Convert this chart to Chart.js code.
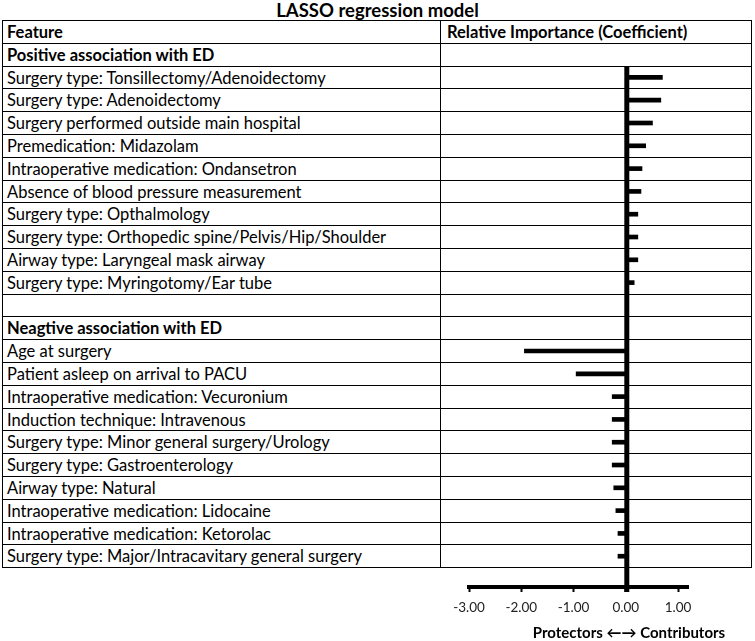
<!DOCTYPE html>
<html>
<head>
<meta charset="utf-8">
<script src="https://cdn.jsdelivr.net/npm/chart.js@4"></script>
<style>
  body { margin: 0; background: #fff; }
  #page { position: relative; width: 755px; height: 641px; overflow: hidden; font-family: Lato, sans-serif; color: #000; }
  #title { position: absolute; left: 0; width: 755px; top: -1px; text-align: center; font-weight: bold; font-size: 18.5px; }
  .row { position: absolute; left: 2px; width: 750px; border-top: 1px solid #000; box-sizing: border-box; }
  .cell { position: absolute; top: 0; white-space: nowrap; font-size: 16.5px; }
  .b { font-weight: bold; }
  #frame { position: absolute; left: 2px; width: 750px; border: 1px solid #000; box-sizing: border-box; }
  #divider { position: absolute; left: 440px; width: 1px; background: #000; }
  #chartBox { position: absolute; left: 440px; top: 66px; width: 315px; height: 575px; }
  #axisTitle { position: absolute; left: 529px; width: 200px; top: 623px; text-align: center; font-weight: bold; font-size: 15px; }
</style>
</head>
<body>
<div id="page">
  <div id="title">LASSO regression model</div>
  <div id="table"></div>
  <div id="chartBox"><canvas id="c" width="315" height="575"></canvas></div>
  <div id="axisTitle">Protectors ←→ Contributors</div>
</div>
<script>
// header texts
const headerLeft = 'Feature';
const headerRight = 'Relative Importance (Coefficient)';
const posTitle = 'Positive association with ED';
const negTitle = 'Neagtive association with ED';

// features with positive coefficient
const posFeatures = [
  'Surgery type: Tonsillectomy/Adenoidectomy',
  'Surgery type: Adenoidectomy',
  'Surgery performed outside main hospital',
  'Premedication: Midazolam',
  'Intraoperative medication: Ondansetron',
  'Absence of blood pressure measurement',
  'Surgery type: Opthalmology',
  'Surgery type: Orthopedic spine/Pelvis/Hip/Shoulder',
  'Airway type: Laryngeal mask airway',
  'Surgery type: Myringotomy/Ear tube'
];
const posValues = [0.70, 0.67, 0.51, 0.38, 0.31, 0.29, 0.23, 0.23, 0.23, 0.16];

// features with negative coefficient
const negFeatures = [
  'Age at surgery',
  'Patient asleep on arrival to PACU',
  'Intraoperative medication: Vecuronium',
  'Induction technique: Intravenous',
  'Surgery type: Minor general surgery/Urology',
  'Surgery type: Gastroenterology',
  'Airway type: Natural',
  'Intraoperative medication: Lidocaine',
  'Intraoperative medication: Ketorolac',
  'Surgery type: Major/Intracavitary general surgery'
];
const negValues = [-1.94, -0.95, -0.26, -0.26, -0.26, -0.26, -0.23, -0.19, -0.15, -0.15];

// x axis ticks
const xTicks = [-3, -2, -1, 0, 1];

// ---- table ----
const tableTop = 20;
const rowH = 22.8;
const rows = [];
rows.push({ left: headerLeft, right: headerRight, bold: true });
rows.push({ left: posTitle, bold: true });
posFeatures.forEach(f => rows.push({ left: f }));
rows.push({ left: '' });
rows.push({ left: negTitle, bold: true });
negFeatures.forEach(f => rows.push({ left: f }));

const table = document.getElementById('table');
rows.forEach((r, i) => {
  const d = document.createElement('div');
  d.className = 'row';
  d.style.top = (tableTop + i * rowH) + 'px';
  d.style.height = rowH + 'px';
  const l = document.createElement('div');
  l.className = 'cell' + (r.bold ? ' b' : '');
  l.style.left = '5px';
  l.style.lineHeight = rowH + 'px';
  l.textContent = r.left;
  d.appendChild(l);
  if (r.right) {
    const rt = document.createElement('div');
    rt.className = 'cell b';
    rt.style.left = '445px';
    rt.style.lineHeight = rowH + 'px';
    rt.textContent = r.right;
    d.appendChild(rt);
  }
  table.appendChild(d);
});
const frame = document.createElement('div');
frame.id = 'frame';
frame.style.top = tableTop + 'px';
frame.style.height = (rows.length * rowH + 1) + 'px';
table.appendChild(frame);
const divider = document.createElement('div');
divider.id = 'divider';
divider.style.top = tableTop + 'px';
divider.style.height = (rows.length * rowH) + 'px';
table.appendChild(divider);

// ---- chart ----
// chart row index: positives 0..9, blank 10, negative title 11, negatives 12..21
const points = [];
posValues.forEach((v, i) => points.push({ x: v, y: i }));
negValues.forEach((v, i) => points.push({ x: v, y: 12 + i }));

// thick vertical line at zero, a bit past the x axis
const zeroLine = {
  id: 'zeroLine',
  afterDatasetsDraw(chart) {
    const ctx = chart.ctx;
    const x = chart.scales.x.getPixelForValue(0) + 1;
    ctx.save();
    ctx.strokeStyle = '#000';
    ctx.lineWidth = 5;
    ctx.beginPath();
    ctx.moveTo(x, chart.chartArea.top);
    ctx.lineTo(x, chart.chartArea.bottom + 5);
    ctx.stroke();
    ctx.restore();
  }
};

new Chart(document.getElementById('c'), {
  type: 'bar',
  data: {
    datasets: [{
      data: points,
      backgroundColor: '#000',
      barThickness: 4
    }]
  },
  options: {
    indexAxis: 'y',
    responsive: false,
    animation: false,
    devicePixelRatio: 1,
    layout: { padding: { left: 29, right: 67, top: 0, bottom: 0 } },
    plugins: { legend: { display: false }, tooltip: { enabled: false } },
    scales: {
      x: {
        type: 'linear',
        min: -3,
        max: 1.19,
        afterFit: s => { s.height = 54; },
        afterBuildTicks: s => { s.ticks = xTicks.map(v => ({ value: v })); },
        border: { display: true, color: '#000', width: 4 },
        grid: { drawOnChartArea: false, drawTicks: true, tickLength: 5, tickWidth: 2, tickColor: '#000' },
        ticks: {
          color: '#222',
          padding: 8,
          font: { family: 'Lato', size: 13.5 },
          callback: v => Number(v).toFixed(2)
        }
      },
      y: {
        type: 'linear',
        display: false,
        reverse: true,
        offset: false,
        min: -0.5,
        max: 22.35
      }
    }
  },
  plugins: [zeroLine]
});
</script>
</body>
</html>
